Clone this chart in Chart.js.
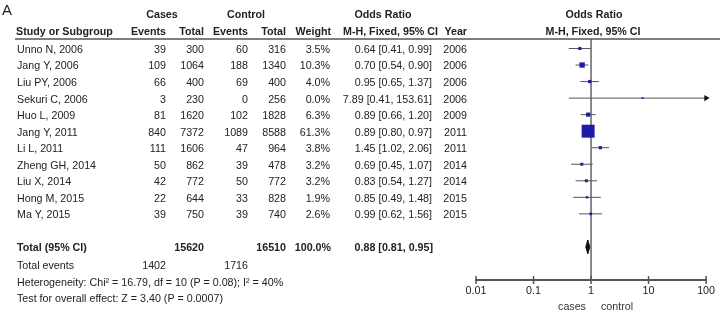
<!DOCTYPE html>
<html>
<head>
<meta charset="utf-8">
<script src="https://cdn.jsdelivr.net/npm/chart.js@4.4.1/dist/chart.umd.min.js"></script>
<style>
  html, body { margin: 0; padding: 0; background: #fff; }
  #wrap { width: 720px; height: 313px; }
</style>
</head>
<body>
<div id="wrap"><canvas id="forest"></canvas></div>
<script>
// study table
const studies = ['Unno N, 2006', 'Jang Y, 2006', 'Liu PY, 2006', 'Sekuri C, 2006', 'Huo L, 2009',
  'Jang Y, 2011', 'Li L, 2011', 'Zheng GH, 2014', 'Liu X, 2014', 'Hong M, 2015', 'Ma Y, 2015'];
const casesEvents = [39, 109, 66, 3, 81, 840, 111, 50, 42, 22, 39];
const casesTotal = [300, 1064, 400, 230, 1620, 7372, 1606, 862, 772, 644, 750];
const controlEvents = [60, 188, 69, 0, 102, 1089, 47, 39, 50, 33, 39];
const controlTotal = [316, 1340, 400, 256, 1828, 8588, 964, 478, 772, 828, 740];
const weights = [3.5, 10.3, 4.0, 0.0, 6.3, 61.3, 3.8, 3.2, 3.2, 1.9, 2.6];
const oddsRatio = [0.64, 0.70, 0.95, 7.89, 0.89, 0.89, 1.45, 0.69, 0.83, 0.85, 0.99];
const ciLow = [0.41, 0.54, 0.65, 0.41, 0.66, 0.80, 1.02, 0.45, 0.54, 0.49, 0.62];
const ciHigh = [0.99, 0.90, 1.37, 153.61, 1.20, 0.97, 2.06, 1.07, 1.27, 1.48, 1.56];
const years = [2006, 2006, 2006, 2006, 2009, 2011, 2011, 2014, 2014, 2015, 2015];

// pooled result
const totalCases = 15620;
const totalControl = 16510;
const totalEventsCases = 1402;
const totalEventsControl = 1716;
const pooled = [0.88, 0.81, 0.95]; // OR, low, high

const xTicks = [0.01, 0.1, 1, 10, 100];

const FONT = '"Liberation Sans", Arial, Helvetica, sans-serif';
const FS = 10.7;
const TXT = '#222';
const totalRow = studies.length + 1;

const fmt = v => v.toFixed(2);
const ciText = i => `${fmt(oddsRatio[i])} [${fmt(ciLow[i])}, ${fmt(ciHigh[i])}]`;

// CI whiskers as one broken line
const ciData = [];
studies.forEach((s, i) => {
  ciData.push({ x: ciLow[i], y: i }, { x: Math.min(ciHigh[i], 100), y: i }, { x: NaN, y: NaN });
});

const arrowData = [];
studies.forEach((s, i) => { if (ciHigh[i] > 100) arrowData.push({ x: 100, y: i }); });

const dh = 0.42;
const diamond = [
  { x: pooled[1], y: totalRow }, { x: pooled[0], y: totalRow - dh },
  { x: pooled[2], y: totalRow }, { x: pooled[0], y: totalRow + dh },
  { x: pooled[1], y: totalRow }
];

const tablePlugin = {
  id: 'forestTable',
  afterDraw(chart) {
    const ctx = chart.ctx;
    const ys = chart.scales.y;
    const xs = chart.scales.x;
    const area = chart.chartArea;
    ctx.save();
    ctx.fillStyle = TXT;
    ctx.textBaseline = 'middle';

    const put = (t, x, y, align, bold, size) => {
      ctx.font = `${bold ? 'bold ' : ''}${size || FS}px ${FONT}`;
      ctx.textAlign = align || 'left';
      ctx.fillText(t, x, y);
    };

    put('A', 2, 11, 'left', false, 15);

    // header
    put('Cases', 162, 15, 'center', true);
    put('Control', 246, 15, 'center', true);
    put('Odds Ratio', 383, 15, 'center', true);
    put('Odds Ratio', 594, 15, 'center', true);
    put('Study or Subgroup', 16, 32, 'left', true);
    put('Events', 166, 32, 'right', true);
    put('Total', 204, 32, 'right', true);
    put('Events', 248, 32, 'right', true);
    put('Total', 286, 32, 'right', true);
    put('Weight', 331, 32, 'right', true);
    put('M-H, Fixed, 95% CI', 343, 32, 'left', true);
    put('Year', 467, 32, 'right', true);
    put('M-H, Fixed, 95% CI', 593, 32, 'center', true);

    ctx.strokeStyle = '#555';
    ctx.lineWidth = 1.5;
    ctx.beginPath();
    ctx.moveTo(15, 39);
    ctx.lineTo(720, 39);
    ctx.stroke();

    studies.forEach((s, i) => {
      const y = ys.getPixelForValue(i) + 1.5;
      put(s, 17, y);
      put(String(casesEvents[i]), 166, y, 'right');
      put(String(casesTotal[i]), 204, y, 'right');
      put(String(controlEvents[i]), 248, y, 'right');
      put(String(controlTotal[i]), 286, y, 'right');
      put(weights[i].toFixed(1) + '%', 330, y, 'right');
      put(ciText(i), 432, y, 'right');
      put(String(years[i]), 467, y, 'right');
    });

    const ty = ys.getPixelForValue(totalRow) + 1.5;
    put('Total (95% CI)', 17, ty, 'left', true);
    put(String(totalCases), 204, ty, 'right', true);
    put(String(totalControl), 286, ty, 'right', true);
    put('100.0%', 331, ty, 'right', true);
    put(`${fmt(pooled[0])} [${fmt(pooled[1])}, ${fmt(pooled[2])}]`, 433, ty, 'right', true);

    put('Total events', 17, 266.5);
    put(String(totalEventsCases), 166, 266.5, 'right');
    put(String(totalEventsControl), 248, 266.5, 'right');
    put('Heterogeneity: Chi\u00b2 = 16.79, df = 10 (P = 0.08); I\u00b2 = 40%', 17, 283);
    put('Test for overall effect: Z = 3.40 (P = 0.0007)', 17, 299);

    // axis tick marks crossing the axis line
    ctx.strokeStyle = '#555';
    ctx.lineWidth = 1.5;
    xTicks.forEach(v => {
      const x = xs.getPixelForValue(v);
      ctx.beginPath();
      ctx.moveTo(x, area.bottom - 4);
      ctx.lineTo(x, area.bottom + 4);
      ctx.stroke();
    });

    ctx.fillStyle = '#333';
    put('cases', 572, 307, 'center');
    put('control', 617, 307, 'center');
    ctx.restore();
  }
};

new Chart(document.getElementById('forest'), {
  type: 'scatter',
  data: {
    datasets: [
      {
        data: oddsRatio.map((v, i) => ({ x: v, y: i })),
        pointStyle: 'rect',
        pointRadius: c => Math.max(1.3, 1.17 * Math.sqrt(weights[c.dataIndex])),
        pointBorderWidth: 0,
        backgroundColor: '#1c1ca6'
      },
      {
        type: 'line',
        data: diamond,
        borderColor: '#111',
        backgroundColor: '#111',
        borderWidth: 1,
        fill: 'shape',
        tension: 0,
        pointRadius: 0
      },
      {
        data: arrowData,
        pointStyle: 'triangle',
        rotation: 90,
        pointRadius: 3.5,
        pointBorderWidth: 0,
        backgroundColor: '#111',
        clip: false
      },
      {
        type: 'line',
        data: ciData,
        borderColor: '#555',
        borderWidth: 1,
        pointRadius: 0,
        spanGaps: false,
        tension: 0
      },
      {
        type: 'line',
        data: [{ x: 1, y: -0.574 }, { x: 1, y: 14 }],
        borderColor: '#666',
        borderWidth: 1.5,
        pointRadius: 0
      }
    ]
  },
  options: {
    responsive: true,
    maintainAspectRatio: false,
    animation: false,
    layout: { padding: { left: 476, right: 10, top: 39, bottom: 0 } },
    plugins: { legend: { display: false }, tooltip: { enabled: false } },
    scales: {
      x: {
        type: 'logarithmic',
        min: 0.01,
        max: 100,
        afterBuildTicks: s => { s.ticks = xTicks.map(v => ({ value: v })); },
        afterFit: s => { s.height = 33; },
        grid: { display: true, drawOnChartArea: false, drawTicks: false },
        border: { display: true, color: '#555', width: 2 },
        ticks: {
          color: TXT,
          font: { family: FONT, size: FS },
          padding: 5,
          autoSkip: false,
          maxRotation: 0,
          callback: v => String(v)
        }
      },
      y: {
        type: 'linear',
        min: -0.574,
        max: 14,
        reverse: true,
        display: false
      }
    }
  },
  plugins: [tablePlugin]
});
</script>
</body>
</html>
